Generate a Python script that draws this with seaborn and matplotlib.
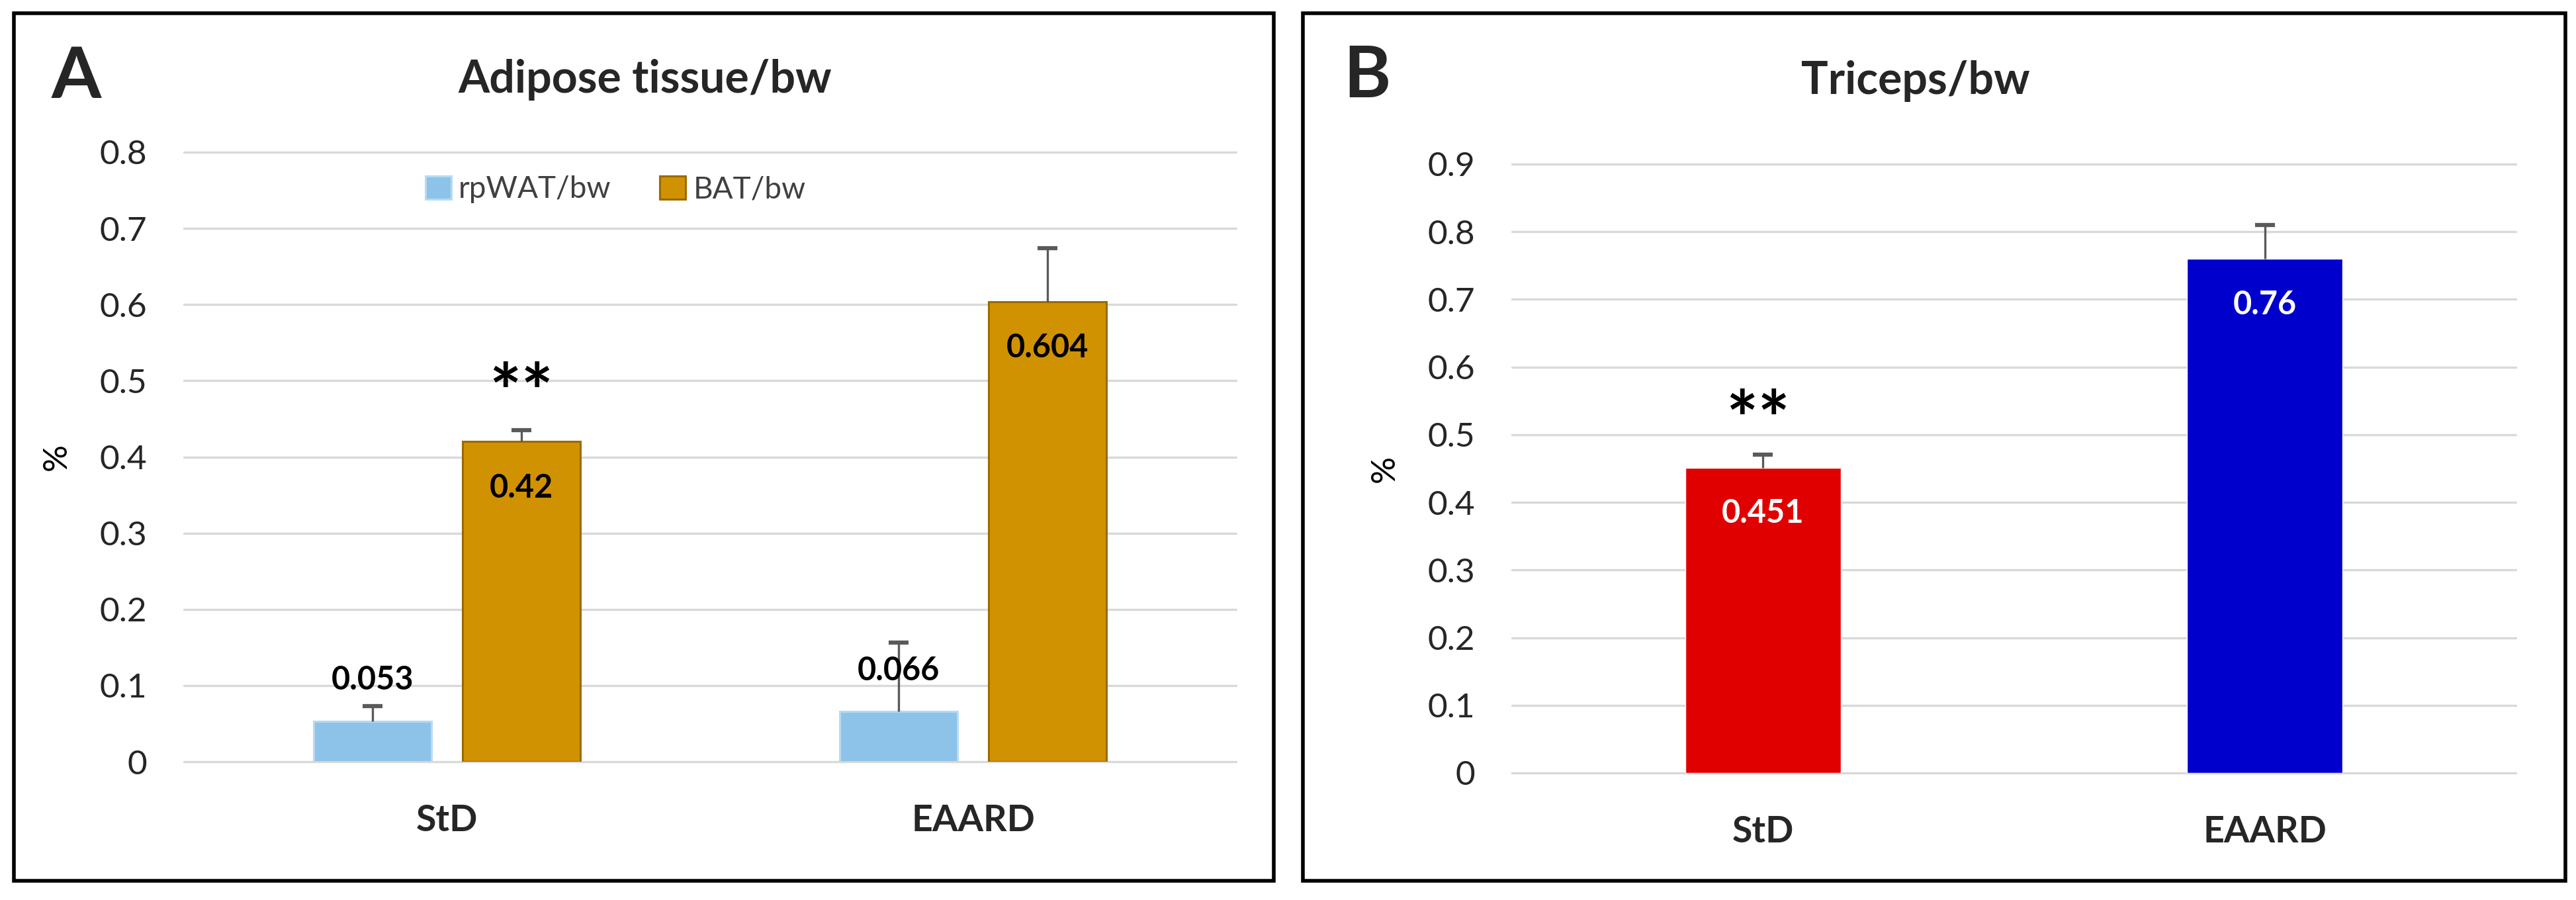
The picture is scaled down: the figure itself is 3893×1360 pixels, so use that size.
import matplotlib
matplotlib.use("Agg")
import matplotlib.pyplot as plt
from matplotlib.patches import Rectangle
from matplotlib.container import BarContainer
import seaborn as sns
import pandas as pd

# ---------------- data ----------------
categories = ["StD", "EAARD"]
series_a = ["rpWAT/bw", "BAT/bw"]
rpwat_vals = [0.053, 0.066]
rpwat_err = [0.020, 0.090]
bat_vals = [0.42, 0.604]
bat_err = [0.015, 0.070]
triceps_vals = [0.451, 0.76]
triceps_err = [0.020, 0.050]
sig_a = ["**", ""]          # BAT/bw markers
sig_b = ["**", ""]
title_a = "Adipose tissue/bw"
title_b = "Triceps/bw"
yticks_a = [0, 0.1, 0.2, 0.3, 0.4, 0.5, 0.6, 0.7, 0.8]
yticks_b = [0, 0.1, 0.2, 0.3, 0.4, 0.5, 0.6, 0.7, 0.8, 0.9]

# ---------------- style ----------------
sns.set_theme(style="white")
plt.rcParams["font.family"] = ["Lato", "DejaVu Sans"]

W, H = 3893, 1360
fig = plt.figure(figsize=(W / 100, H / 100), dpi=100)
PX = 72 / 100  # points per pixel

c_rp, c_rp_edge = "#8DC3E8", "#B7DAF2"
c_bat, c_bat_edge = "#D09200", "#9A6B00"
c_red, c_blue = "#E00000", "#0000CC"
err_col = "#5A5A5A"
grid_col = "#D9D9D9"

def fx(x):
    return x / W

def fy(y):
    return 1 - y / H

def upper_errorbar(ax, xs, vals, errs):
    _, caps, _ = ax.errorbar(xs, vals, yerr=[[0] * len(xs), errs], fmt="none",
                             ecolor=err_col, elinewidth=2.4, capsize=10.5,
                             capthick=4.5, zorder=5)
    if len(caps) == 2:
        caps[0].set_visible(False)

# panel frames
for (x0, x1) in [(21, 1925), (1969, 3877)]:
    fig.patches.append(Rectangle((fx(x0), fy(1331)), fx(x1) - fx(x0), fy(20) - fy(1331),
                                 transform=fig.transFigure, fill=False,
                                 edgecolor="black", linewidth=4.0, zorder=0))

# axes
axA = fig.add_axes([fx(278), fy(1151), fx(1868) - fx(278), fy(230) - fy(1151)])
axB = fig.add_axes([fx(2285), fy(1168), fx(3802) - fx(2285), fy(248) - fy(1168)])

# ---------------- panel A ----------------
dfA = pd.DataFrame({
    "group": categories * 2,
    "series": [series_a[0]] * 2 + [series_a[1]] * 2,
    "value": rpwat_vals + bat_vals,
})
sns.barplot(data=dfA, x="group", y="value", hue="series", order=categories,
            hue_order=series_a, palette=[c_rp, c_bat], errorbar=None,
            width=0.566, gap=0.21, saturation=1, ax=axA, legend=False)

bar_conts_a = [c for c in axA.containers if isinstance(c, BarContainer)]
errs_a = [rpwat_err, bat_err]
vals_a = [rpwat_vals, bat_vals]
edges_a = [c_rp_edge, c_bat_edge]
for k, cont in enumerate(bar_conts_a):
    xs = []
    for p in cont.patches:
        p.set_edgecolor(edges_a[k])
        p.set_linewidth(2.2)
        xs.append(p.get_x() + p.get_width() / 2)
    upper_errorbar(axA, xs, vals_a[k], errs_a[k])
    for i, x in enumerate(xs):
        v = vals_a[k][i]
        lab = f"{v:.3f}".rstrip("0")
        if k == 0:
            axA.annotate(lab, (x, v), xytext=(0, 62 * PX), textcoords="offset points",
                         ha="center", va="center", fontsize=35, fontweight="bold",
                         color="black", zorder=6)
        else:
            axA.annotate(lab, (x, v), xytext=(0, -70 * PX), textcoords="offset points",
                         ha="center", va="center", fontsize=35, fontweight="bold",
                         color="black", zorder=6)
            if sig_a[i]:
                axA.annotate(sig_a[i], (x, v + errs_a[k][i]), xytext=(0, 50 * PX),
                             textcoords="offset points", ha="center", va="center",
                             fontsize=82, fontweight="bold", color="black", zorder=6)

axA.legend(handles=bar_conts_a, labels=series_a, ncol=2, loc="center",
           bbox_to_anchor=(fx(930), fy(286)), bbox_transform=fig.transFigure,
           frameon=False, fontsize=33, handlelength=0.85, handleheight=0.8,
           handletextpad=0.25, columnspacing=1.6, labelcolor="#404040")

# ---------------- panel B ----------------
dfB = pd.DataFrame({"group": categories, "value": triceps_vals})
sns.barplot(data=dfB, x="group", y="value", hue="group", order=categories,
            hue_order=categories, palette=[c_red, c_blue], errorbar=None,
            width=0.31, saturation=1, ax=axB, legend=False)
xsB = []
for cont in [c for c in axB.containers if isinstance(c, BarContainer)]:
    for p in cont.patches:
        xsB.append(p.get_x() + p.get_width() / 2)
xsB = sorted(xsB)
upper_errorbar(axB, xsB, triceps_vals, triceps_err)
for i, x in enumerate(xsB):
    v = triceps_vals[i]
    lab = f"{v:.3f}".rstrip("0")
    axB.annotate(lab, (x, v), xytext=(0, -69 * PX), textcoords="offset points",
                 ha="center", va="center", fontsize=35, fontweight="bold",
                 color="white", zorder=6)
    if sig_b[i]:
        axB.annotate(sig_b[i], (x - 0.01, v + triceps_err[i]), xytext=(0, 46 * PX),
                     textcoords="offset points", ha="center", va="center",
                     fontsize=82, fontweight="bold", color="black", zorder=6)

# ---------------- common axis styling ----------------
for ax, yt, ttl in [(axA, yticks_a, title_a), (axB, yticks_b, title_b)]:
    ax.set_ylim(0, yt[-1])
    ax.set_xlim(-0.5, 1.5)
    ax.set_yticks(yt)
    ax.set_yticklabels([f"{t:g}" for t in yt])
    ax.grid(axis="y", color=grid_col, linewidth=2.4)
    ax.grid(axis="x", visible=False)
    ax.set_axisbelow(True)
    for s in ax.spines.values():
        s.set_visible(False)
    ax.tick_params(axis="y", length=0, pad=40, labelsize=37, labelcolor="#262626")
    ax.tick_params(axis="x", length=0, pad=46, labelsize=40)
    for t in ax.get_xticklabels():
        t.set_fontweight("bold")
    ax.set_xlabel("")
    ax.set_ylabel("%", fontsize=37, labelpad=30, color="black")
    ax.set_facecolor("none")
    for gl in ax.get_ygridlines():
        gl.set_clip_on(False)

# titles and panel letters
fig.text(fx(975), fy(120), title_a, ha="center", va="center", fontsize=49, fontweight="bold")
fig.text(fx(2895), fy(123), title_b, ha="center", va="center", fontsize=49, fontweight="bold")
fig.text(fx(115), fy(117), "A", ha="center", va="center", fontsize=78, fontweight="bold")
fig.text(fx(2066), fy(116), "B", ha="center", va="center", fontsize=78, fontweight="bold")

fig.savefig("out.png", dpi=100, facecolor="white")
